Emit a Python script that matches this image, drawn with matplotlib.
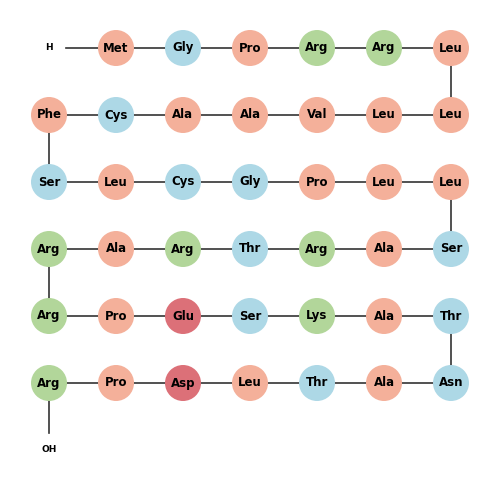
import matplotlib
matplotlib.use("Agg")
import matplotlib.pyplot as plt
from matplotlib.patches import Circle

residues = ["Met","Gly","Pro","Arg","Arg","Leu",
            "Leu","Leu","Val","Ala","Ala","Cys","Phe",
            "Ser","Leu","Cys","Gly","Pro","Leu","Leu",
            "Ser","Ala","Arg","Thr","Arg","Ala","Arg",
            "Arg","Pro","Glu","Ser","Lys","Ala","Thr",
            "Asn","Ala","Thr","Leu","Asp","Pro","Arg"]
groups = {"hydrophobic": ["Met","Pro","Leu","Phe","Ala","Val"],
          "polar": ["Gly","Cys","Ser","Thr","Asn"],
          "basic": ["Arg","Lys"],
          "acidic": ["Glu","Asp"]}
colors = {"hydrophobic": "#F4B09A", "polar": "#ADD8E6", "basic": "#B2D69A", "acidic": "#DC7078"}
res_color = {r: colors[g] for g, rs in groups.items() for r in rs}

ncol = 7
x0, dx, y0, dy = 49, 67, 48, 67

def pos(k):
    row, c = divmod(k, ncol)
    col = c if row % 2 == 0 else ncol - 1 - c
    return x0 + col * dx, y0 + row * dy

fig = plt.figure(figsize=(5, 5), dpi=100)
ax = fig.add_axes([0, 0, 1, 1])
ax.set_xlim(0, 500); ax.set_ylim(500, 0); ax.axis("off")

n = len(residues)
pts = [pos(k) for k in range(n + 1)]
oh = pos(n + 1)
# H to first residue
ax.plot([pts[0][0] + 17, pts[1][0]], [pts[0][1], pts[1][1]], color="#333333", lw=1.2, zorder=1)
for k in range(1, n):
    ax.plot([pts[k][0], pts[k + 1][0]], [pts[k][1], pts[k + 1][1]], color="#333333", lw=1.2, zorder=1)
ax.plot([pts[n][0], oh[0]], [pts[n][1], oh[1] - 17], color="#333333", lw=1.2, zorder=1)

ax.text(*pts[0], "H", ha="center", va="center", fontsize=6.5, fontweight="bold")
ax.text(*oh, "OH", ha="center", va="center", fontsize=6.5, fontweight="bold")
for k, r in enumerate(residues, start=1):
    x, y = pts[k]
    ax.add_patch(Circle((x, y), 18, facecolor=res_color[r], edgecolor="none", zorder=2))
    ax.text(x, y, r, ha="center", va="center", fontsize=8.5, fontweight="bold", zorder=3)

fig.savefig("out.png", dpi=100)
